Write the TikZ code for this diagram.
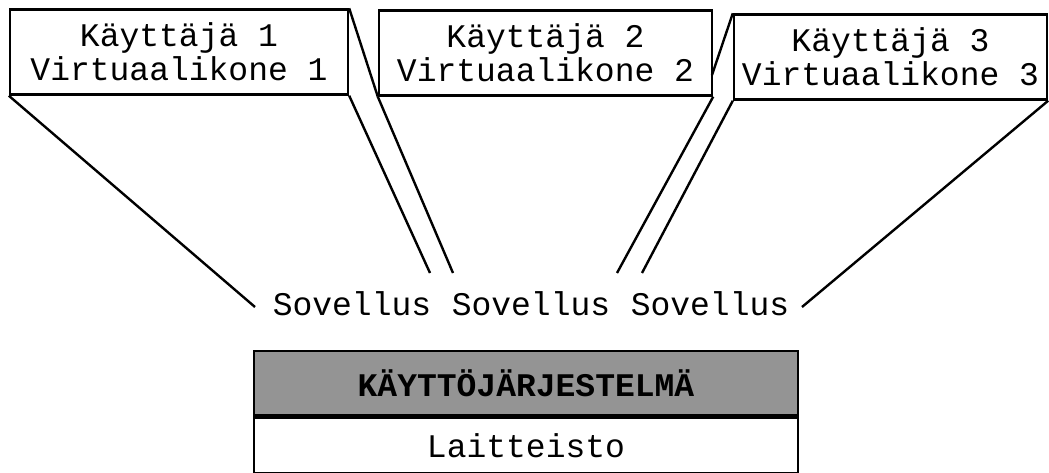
\documentclass[tikz,border=0pt]{standalone}
\usepackage{fontspec}
\setmonofont{Liberation Mono}
\usetikzlibrary{positioning}

\begin{document}
\begin{tikzpicture}[x=1pt,y=-1pt,line width=2.4pt,
    every node/.style={font=\ttfamily\fontsize{33}{34}\selectfont},
    vmbox/.style={draw,minimum height=85pt,inner sep=0pt,align=center},
    applabel/.style={inner sep=0pt,anchor=base},
    layer/.style={draw,minimum width=544pt,inner sep=0pt}]
    \useasboundingbox (0,0) rectangle (1049,473);

    % Virtual machines, one per user
    \node[vmbox,minimum width=338pt] (vm1) at (179,52) {Käyttäjä 1\\Virtuaalikone 1};
    \node[vmbox,minimum width=333pt] (vm2) at (545.5,53) {Käyttäjä 2\\Virtuaalikone 2};
    \node[vmbox,minimum width=313pt] (vm3) at (890.5,57) {Käyttäjä 3\\Virtuaalikone 3};

    % Applications
    \node[applabel] (app1) at (352,315) {Sovellus};
    \node[applabel] (app2) at (531,315) {Sovellus};
    \node[applabel] (app3) at (710,315) {Sovellus};

    % Ends of the lines near the applications
    \coordinate (s1l) at (255,307);
    \coordinate (s1r) at (430,273);
    \coordinate (s2l) at (453,273);
    \coordinate (s2r) at (617,273);
    \coordinate (s3l) at (642,273);
    \coordinate (s3r) at (802,307);
    \coordinate (vm2e) at (712,75);

    % Lines from each machine down to its application
    \draw (vm1.south west) -- (s1l);
    \draw (vm1.south east) -- (s1r);
    \draw (vm2.south west) -- (s2l);
    \draw (vm2.south east) -- (s2r);
    \draw (vm3.south west) -- (s3l);
    \draw (vm3.south east) -- (s3r);

    % Edges between the boxes
    \draw (vm1.north east) -- (vm2.south west);
    \draw (vm3.north west) -- (vm2e);

    % Operating system and hardware
    \node[layer,minimum height=64pt,fill=black!42,font=\ttfamily\bfseries\fontsize{33}{34}\selectfont] (os) at (526,383) {KÄYTTÖJÄRJESTELMÄ};
    \node[layer,minimum height=56pt,below=0pt of os] (hw) {Laitteisto};
\end{tikzpicture}
\end{document}
